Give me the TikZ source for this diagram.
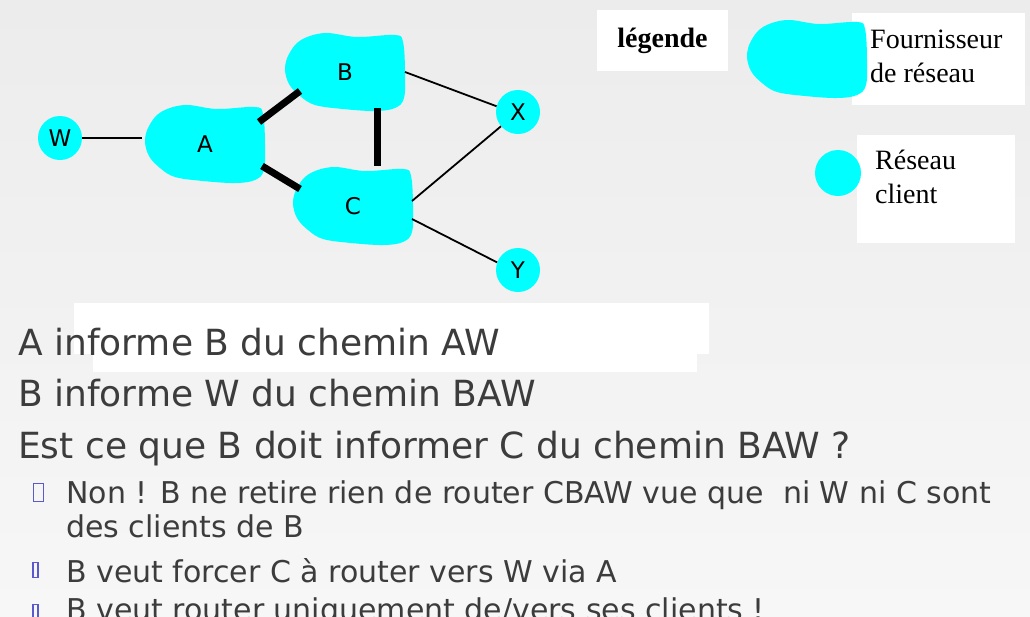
\documentclass[tikz,border=0pt]{standalone}
\usepackage{fontspec}
\setmainfont{DejaVu Sans}
\newfontfamily\legendfont{Liberation Serif}
\usetikzlibrary{positioning}
\definecolor{NetCyan}{RGB}{0,255,255}
\definecolor{SlideText}{RGB}{60,60,60}
\definecolor{BulletBlue}{RGB}{90,90,204}
\definecolor{BgTop}{RGB}{236,236,236}
\definecolor{BgMid}{RGB}{226,226,226}
\definecolor{BgBottom}{RGB}{247,247,247}
\tikzset{
  provider/.style={minimum width=126,minimum height=84,inner sep=0,
    label={[font=\fontsize{23}{26}\selectfont,inner sep=0]center:#1},
    path picture={\fill[NetCyan,shift={(path picture bounding box.center)}]
      plot[smooth cycle,tension=.6] coordinates {(-20,-39) (12,-35) (50,-37)
        (58,-30) (60,0) (59,26) (50,36) (30,39) (-2,37) (-30,33) (-45,24)
        (-56,12) (-60,-3) (-56,-18) (-44,-32)};}},
  provider/.default={},
  client/.style={circle,fill=NetCyan,minimum size=44,inner sep=0,
    font=\fontsize{23}{26}\selectfont},
  legendbox/.style={fill=white,inner sep=0},
  legendtext/.style={font=\legendfont\fontsize{28}{34}\selectfont,inner sep=0,
    align=left,anchor=base west},
  mainline/.style={font=\fontsize{36}{42}\selectfont,text=SlideText,
    inner sep=0,anchor=base west},
  subline/.style={font=\fontsize{30}{34}\selectfont,text=SlideText,
    inner sep=0,anchor=base west,align=left},
  bulletbox/.style={draw=BulletBlue,line width=1.2pt,inner sep=0},
  thinlink/.style={line width=1.8pt},
  peerlink/.style={line width=7pt}
}

\begin{document}
\begin{tikzpicture}[x=1pt,y=-1pt]
  \clip (0,0) rectangle (1030,616);
  \shade[top color=BgTop,middle color=BgMid,bottom color=BgBottom]
    (0,0) rectangle (1030,616);

  % topology
  \node[client] (W) at (60,138) {W};
  \node[provider=A] (A) at (205,144) {};
  \node[provider=B] (B) at (345,72) {};
  \node[provider=C] (C) at (353,206) {};
  \node[client] (X) at (518,112) {X};
  \node[client] (Y) at (518,270) {Y};

  \draw[thinlink] (W) -- (W -| A.west);
  \draw[peerlink] ([shift={(54,-22)}]A.center) -- ([shift={(-45,19)}]B.center);
  \draw[peerlink] ([shift={(57,22)}]A.center) -- ([shift={(-53,-17)}]C.center);
  \draw[peerlink] ([shift={(32,36)}]B.center) -- ([shift={(24,-40)}]C.center);
  \draw[thinlink] ([shift={(60,0)}]B.center) -- (X.165);
  \draw[thinlink] ([shift={(59,-5)}]C.center) -- (X.220);
  \draw[thinlink] ([shift={(59,13)}]C.center) -- (Y.160);

  % legend
  \node[legendbox,minimum width=131,minimum height=61] (legend) at (662.5,40.5)
    {\legendfont\fontsize{28}{34}\selectfont\bfseries légende};
  \node[legendbox,minimum width=173,minimum height=92] (provbox) at (938.5,59) {};
  \node[provider] (provkey) at (807,59) {};
  \node[legendtext] (provtext) at (870,82) {Fournisseur\\de réseau};
  \node[legendbox,minimum width=158,minimum height=108] (clientbox) at (936,189) {};
  \node[client,minimum size=46] (clientkey) at (838,173) {};
  \node[legendtext] (clienttext) at (875,203) {Réseau\\client};

  % text
  \fill[white] (74,303) rectangle (709,354);
  \fill[white] (93,354) rectangle (697,372);
  \node[mainline] (l1) at (18,355) {A informe B du chemin AW};
  \node[mainline] (l2) at (18,406) {B informe W du chemin BAW};
  \node[mainline] (l3) at (18,458) {Est ce que B doit informer C du chemin BAW ?};
  \node[bulletbox,minimum width=10,minimum height=18] (b1) at (38.5,492.5) {};
  \node[subline] (s1) at (66,537)
    {Non ! B ne retire rien de router CBAW vue que\ \ ni W ni C sont\\des clients de B};
  \node[bulletbox,minimum width=5,minimum height=15] (b2) at (35.5,570) {};
  \node[subline] (s2) at (66,582) {B veut forcer C à router vers W via A};
  \node[bulletbox,minimum width=5,minimum height=15] (b3) at (35.5,612) {};
  \node[subline] (s3) at (66,620) {B veut router uniquement de/vers ses clients !};
\end{tikzpicture}
\end{document}
